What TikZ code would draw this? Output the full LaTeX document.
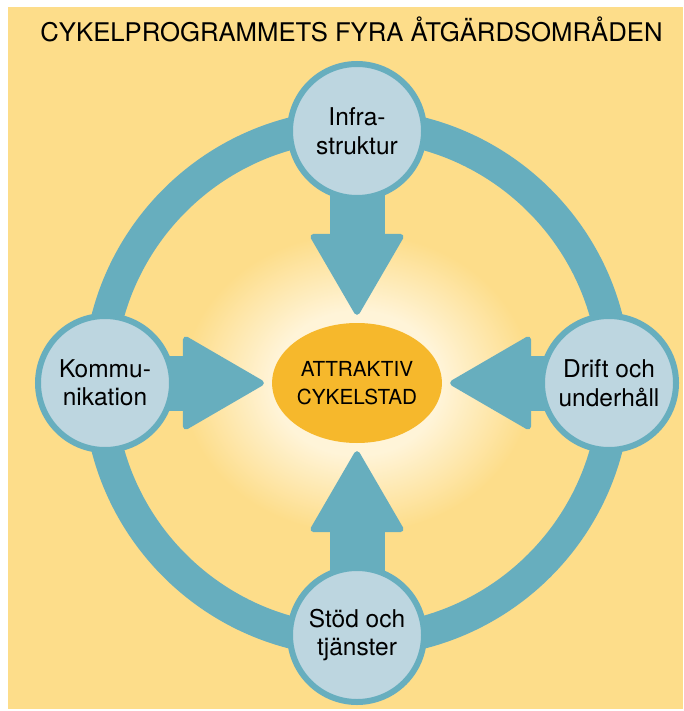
\documentclass[tikz,border=0pt]{standalone}
\usepackage{fontspec}
\setmainfont{TeX Gyre Heros}
\usetikzlibrary{arrows.meta,calc,shapes.geometric}
\definecolor{paper}{HTML}{FDDD8A}
\definecolor{ringteal}{HTML}{67AEBE}
\definecolor{disc}{HTML}{BDD6E0}
\definecolor{core}{HTML}{F6B82C}
\definecolor{halo}{HTML}{FFF4D8}
% soft glow: light in the middle, fading into the paper colour at the rim
\pgfdeclareradialshading{haloshade}{\pgfpoint{0bp}{0bp}}{%
  color(0bp)=(halo); color(12bp)=(halo); color(25bp)=(paper); color(50bp)=(paper)}
\pgfdeclarelayer{back}
\pgfsetlayers{back,main}
\begin{document}
\begin{tikzpicture}[x=1pt,y=-1pt,
  area/.style={circle, fill=disc, draw=ringteal, line width=6pt,
    minimum size=134pt, inner sep=0pt, align=center,
    font=\fontsize{24.5}{28.5}\selectfont},
  goal/.style={ellipse, fill=core, minimum width=165pt, minimum height=120pt,
    inner sep=0pt, align=center, font=\fontsize{20.7}{28}\selectfont},
  push/.style={draw=ringteal, fill=ringteal, line width=55pt,
    shorten <=-12pt, shorten >=8pt,
    -{Triangle[length=84pt 0 0, width=96pt 0 0, line width=6pt 0 0, round]}},
  ring/.style={draw=ringteal, line width=32pt}
]
\useasboundingbox (0,0) rectangle (684,711);
\coordinate (o) at (357,383);

% title
\node (title) [anchor=base, font=\fontsize{25.7}{30}\selectfont]
  at (351.5,42) {CYKELPROGRAMMETS FYRA ÅTGÄRDSOMRÅDEN};

% the four action areas and the goal in the middle
\node (infra) [area] at (357,131) {Infra-\\struktur};
\node (komm)  [area] at (105,383) {Kommu-\\nikation};
\node (drift) [area] at (609,383) {Drift och\\underhåll};
\node (stod)  [area] at (357,635) {Stöd och\\tjänster};
\node (ctr)   [goal] at (o) {ATTRAKTIV\\CYKELSTAD};

\begin{pgfonlayer}{back}
  \fill[white] (0,0) rectangle (684,711);
  \fill[paper] (8,7) rectangle (683,709);
  \shade[shading=haloshade] (o) ellipse [x radius=175pt, y radius=150pt];
  \draw[ring] (o) circle [radius=258pt];
  \draw[push] (infra) -- (ctr);
  \draw[push] (komm) -- (ctr);
  \draw[push] (drift) -- (ctr);
  \draw[push] (stod) -- (ctr);
\end{pgfonlayer}
\end{tikzpicture}
\end{document}
